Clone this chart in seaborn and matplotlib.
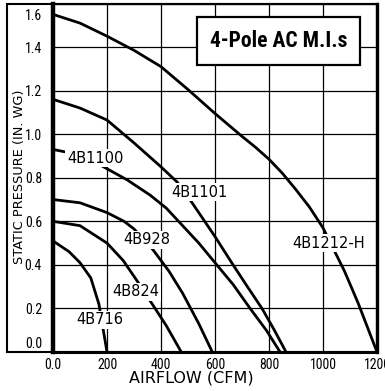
import matplotlib
matplotlib.use("Agg")
import matplotlib.pyplot as plt
from matplotlib import font_manager
from matplotlib.patches import Rectangle
import numpy as np
import pandas as pd
import seaborn as sns

# Fan performance curves: airflow (CFM) vs static pressure (in. WG)
models = ["4B1212-H", "4B1101", "4B1100", "4B928", "4B824", "4B716"]

cfm_1212h = [0, 100, 200, 300, 400, 500, 600, 700, 750, 800, 850, 900, 950, 1000, 1040, 1080, 1130, 1200]
wg_1212h = [1.55, 1.51, 1.45, 1.385, 1.31, 1.205, 1.095, 0.99, 0.94, 0.885, 0.82, 0.745, 0.665, 0.57, 0.47, 0.37, 0.225, 0.0]

cfm_1101 = [0, 100, 200, 300, 400, 460, 507, 600, 667, 720, 774, 820, 863]
wg_1101 = [1.16, 1.12, 1.065, 0.96, 0.85, 0.78, 0.70, 0.53, 0.40, 0.30, 0.20, 0.10, 0.0]

cfm_1100 = [0, 100, 180, 275, 360, 420, 480, 540, 600, 667, 730, 790, 841]
wg_1100 = [0.93, 0.905, 0.855, 0.79, 0.72, 0.66, 0.58, 0.50, 0.41, 0.31, 0.20, 0.10, 0.0]

cfm_928 = [0, 100, 200, 263, 300, 370, 430, 480, 540, 590]
wg_928 = [0.70, 0.685, 0.64, 0.60, 0.565, 0.47, 0.37, 0.27, 0.13, 0.0]

cfm_824 = [0, 100, 200, 260, 315, 352, 420, 475]
wg_824 = [0.60, 0.58, 0.50, 0.42, 0.32, 0.25, 0.12, 0.0]

cfm_716 = [0, 60, 100, 140, 170, 185, 200]
wg_716 = [0.51, 0.46, 0.41, 0.34, 0.22, 0.11, 0.0]

# Curve label anchors (CFM, in. WG)
label_cfm = [1019, 541, 156, 348, 308, 175]
label_wg = [0.50, 0.733, 0.889, 0.516, 0.276, 0.147]

x_ticks = [0, 200, 400, 600, 800, 1000, 1200]
x_tick_labels = ["0.0", "200", "400", "600", "800", "1000", "1200"]
y_ticks = [0.0, 0.2, 0.4, 0.6, 0.8, 1.0, 1.2, 1.4, 1.6]
y_tick_labels = ["0.0", "0.2", "0.4", "0.6", "0.8", "1.0", "1.2", "1.4", "1.6"]

title_text = "4-Pole AC M.I.s"
x_title = "AIRFLOW (CFM)"
y_title = "STATIC PRESSURE (IN. WG)"

series = {
    "4B1212-H": (cfm_1212h, wg_1212h),
    "4B1101": (cfm_1101, wg_1101),
    "4B1100": (cfm_1100, wg_1100),
    "4B928": (cfm_928, wg_928),
    "4B824": (cfm_824, wg_824),
    "4B716": (cfm_716, wg_716),
}
df = pd.concat(
    [pd.DataFrame({"model": m, "cfm": xs, "wg": ys}) for m, (xs, ys) in series.items()],
    ignore_index=True,
)

sns.set_theme(style="white")
available = {f.name for f in font_manager.fontManager.ttflist}


def pick(candidates, default):
    for c in candidates:
        if c in available:
            return c
    return default


narrow = pick(["Liberation Sans Narrow", "Roboto Condensed", "Open Sans Condensed"], "Liberation Sans")
title_font = pick(["Liberation Sans Narrow", "Roboto Condensed"], "Roboto")
narrow_title = title_font != "Roboto"

plt.rcParams["font.family"] = ["DejaVu Sans"]
plt.rcParams["text.color"] = "black"
plt.rcParams["axes.labelcolor"] = "black"
plt.rcParams["xtick.color"] = "black"
plt.rcParams["ytick.color"] = "black"

W, H = 385, 391
fig = plt.figure(figsize=(W / 100, H / 100), dpi=100)
ax_left, ax_right, ax_top, ax_bottom = 53, 377, 3.5, 352
ax = fig.add_axes([ax_left / W, 1 - ax_bottom / H, (ax_right - ax_left) / W, (ax_bottom - ax_top) / H])

sns.lineplot(
    data=df, x="cfm", y="wg", hue="model", units="model", estimator=None, sort=False,
    palette=["black"] * len(models), hue_order=models, legend=False,
    linewidth=2.0, ax=ax, zorder=3,
)

tick_size = 10
ax.set_xlim(0, 1200)
ax.set_ylim(0, 1.6)
ax.set_xticks(x_ticks)
ax.set_yticks(y_ticks)
ax.set_xticklabels(x_tick_labels, family=narrow, fontsize=tick_size, color="black")
ylabels_shown = [""] + y_tick_labels[1:-1] + [""]
ax.set_yticklabels(ylabels_shown, family=narrow, fontsize=tick_size, color="black")
ax.tick_params(axis="both", length=0, colors="black")
ax.tick_params(axis="y", pad=8)
ax.tick_params(axis="x", pad=4)
ax.set_xlabel("")
ax.set_ylabel("")

# end labels of the pressure axis sit inside the frame
ax.annotate(y_tick_labels[-1], xy=(0, 1.6), xycoords=("axes fraction", "data"),
            xytext=(-8, -9), textcoords="offset points", ha="right", va="center",
            family=narrow, fontsize=tick_size, color="black")
ax.annotate(y_tick_labels[0], xy=(0, 0.0), xycoords=("axes fraction", "data"),
            xytext=(-8, 6), textcoords="offset points", ha="right", va="center",
            family=narrow, fontsize=tick_size, color="black")

ax.grid(True, color="black", linewidth=0.9)
ax.set_axisbelow(True)

for side, lw in {"left": 3.2, "bottom": 2.2, "right": 2.4, "top": 1.5}.items():
    ax.spines[side].set_visible(True)
    ax.spines[side].set_color("black")
    ax.spines[side].set_linewidth(lw)

# curve names on white patches that break the lines
for name, lx, ly in zip(models, label_cfm, label_wg):
    ax.text(lx, ly, name, ha="center", va="center", fontsize=10.5, color="black",
            zorder=5, bbox=dict(facecolor="white", edgecolor="none", pad=1.2))

# title box
ax.add_patch(Rectangle((0.444, 0.8235), 0.504, 0.1375, transform=ax.transAxes,
                       facecolor="white", edgecolor="black", linewidth=1.6, zorder=6))
ax.text(0.696, 0.891, title_text, transform=ax.transAxes, ha="center", va="center",
        fontsize=15.5 if narrow_title else 14, fontweight="bold", family=title_font,
        color="black", zorder=7)

# outer frame enclosing the pressure scale
frame = Rectangle((7 / W, 1 - ax_bottom / H), (ax_right - 7) / W, (ax_bottom - ax_top) / H,
                  transform=fig.transFigure, fill=False, edgecolor="black", linewidth=1.5)
fig.add_artist(frame)

fig.text(20 / W, 1 - 177 / H, y_title, rotation=90, ha="center", va="center", fontsize=9.3)
fig.text(191 / W, 1 - 378 / H, x_title, ha="center", va="center", fontsize=11.5)

fig.savefig("out.png", dpi=100)
